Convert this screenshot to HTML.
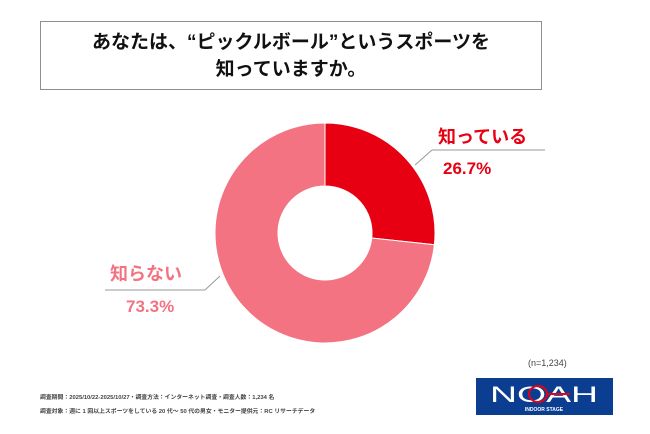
<!DOCTYPE html>
<html><head><meta charset="utf-8">
<style>
body{margin:0;width:650px;height:434px;background:#fff;font-family:"Liberation Sans","Noto Sans CJK JP",sans-serif;position:relative;overflow:hidden}
.title{position:absolute;left:40px;top:21px;width:502px;height:69px;border:1px solid #8a8f96;text-align:center;font-weight:bold;font-size:19px;line-height:27px;padding-top:7px;box-sizing:border-box;color:#111}
.foot{position:absolute;left:40px;font-size:8px;color:#444;font-weight:bold;transform:scale(0.73);transform-origin:0 0;white-space:nowrap}
</style></head><body>
<div class="title">あなたは、“ピックルボール”というスポーツを<br>知っていますか。</div>
<svg width="650" height="434" style="position:absolute;left:0;top:0">
<g id="slices"></g>
<line x1="415" y1="165" x2="432" y2="150" stroke="#999" stroke-width="1"/>
<line x1="432" y1="150" x2="545" y2="150" stroke="#999" stroke-width="1"/>
<line x1="220" y1="276" x2="205" y2="290" stroke="#999" stroke-width="1"/>
<line x1="205" y1="290" x2="105" y2="290" stroke="#999" stroke-width="1"/>
<text x="438" y="143" font-size="18" font-weight="bold" fill="#e60012">知っている</text>
<text x="443" y="174" font-size="17" font-weight="bold" fill="#e60012">26.7%</text>
<text x="110" y="280" font-size="18" font-weight="bold" fill="#f37382">知らない</text>
<text x="126" y="312" font-size="17" font-weight="bold" fill="#f37382">73.3%</text>
<text x="528" y="366" font-size="9" fill="#444">(n=1,234)</text>
<g>
<rect x="476" y="378" width="137" height="37" fill="#0b3d91"/>
<text x="544" y="402" font-size="22" fill="#fff" text-anchor="middle" textLength="108" lengthAdjust="spacingAndGlyphs">NOAH</text>
<ellipse cx="538" cy="394" rx="9" ry="8" fill="none" stroke="#e60012" stroke-width="2"/>
<line x1="547" y1="394" x2="570" y2="394" stroke="#e60012" stroke-width="2"/>
<text x="544" y="411" font-size="5" fill="#fff" text-anchor="middle" font-weight="bold">INDOOR STAGE</text>
</g>
</svg>
<div class="foot" style="top:393px">調査期間：2025/10/22-2025/10/27・調査方法：インターネット調査・調査人数：1,234 名</div>
<div class="foot" style="top:407px">調査対象：週に 1 回以上スポーツをしている 20 代～ 50 代の男女・モニター提供元：RC リサーチデータ</div>
<script>
const categories=["知っている","知らない"];
const values=[26.7,73.3];
const colors=["#e60012","#f37382"];
const cx=325,cy=233,R=110,r=47;
const g=document.getElementById('slices');
const total=values.reduce((a,b)=>a+b,0);
let a0=-Math.PI/2;
values.forEach((v,i)=>{
 const a1=a0+v/total*2*Math.PI;
 const lg=(a1-a0)>Math.PI?1:0;
 const p=(a,rad)=>[cx+rad*Math.cos(a),cy+rad*Math.sin(a)];
 const [x0,y0]=p(a0,R),[x1,y1]=p(a1,R),[x2,y2]=p(a1,r),[x3,y3]=p(a0,r);
 const el=document.createElementNS('http://www.w3.org/2000/svg','path');
 el.setAttribute('d',`M${x0},${y0}A${R},${R} 0 ${lg} 1 ${x1},${y1}L${x2},${y2}A${r},${r} 0 ${lg} 0 ${x3},${y3}Z`);
 el.setAttribute('fill',colors[i]);
 el.setAttribute('stroke','#fff');
 el.setAttribute('stroke-width','1');
 
 
 g.appendChild(el);
 a0=a1;
});
</script>
</body></html>
